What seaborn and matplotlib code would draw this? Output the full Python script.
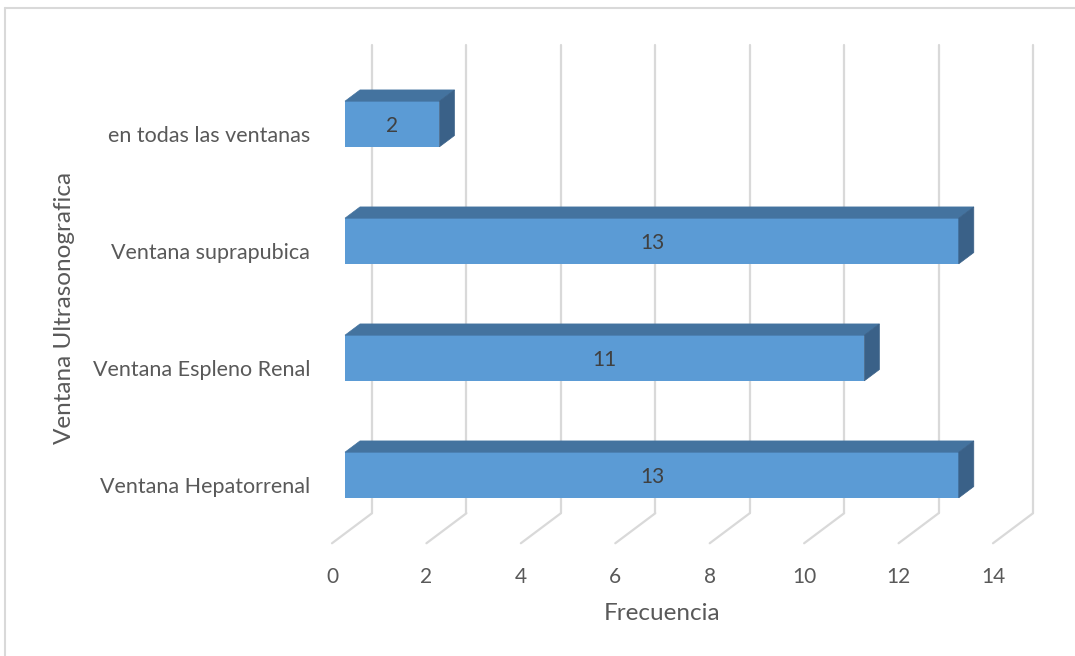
import matplotlib
matplotlib.use("Agg")
import matplotlib.pyplot as plt
from matplotlib.patches import Polygon
from matplotlib.lines import Line2D
from matplotlib.transforms import ScaledTranslation
import seaborn as sns
import pandas as pd

# Data
categorias = ["en todas las ventanas", "Ventana suprapubica",
              "Ventana Espleno Renal", "Ventana Hepatorrenal"]
frecuencias = [2, 13, 11, 13]
ticks_x = [0, 2, 4, 6, 8, 10, 12, 14]

df = pd.DataFrame({"categoria": categorias, "frecuencia": frecuencias})

sns.set_theme(style="white")
plt.rcParams["font.family"] = ["Lato", "DejaVu Sans"]

W, H = 1075, 656
fig = plt.figure(figsize=(W / 100, H / 100), dpi=100)
fig.patch.set_facecolor("white")

# Axes placed so the bars' front faces sit on the data plane
ax_left, ax_right = 345, 1006
ax_top, ax_bottom = 65.5, 533.5
ax = fig.add_axes([ax_left / W, 1 - ax_bottom / H,
                   (ax_right - ax_left) / W, (ax_bottom - ax_top) / H])

front_col = "#5B9BD5"
top_col = "#44739F"
side_col = "#3A6188"
grid_col = "#D9D9D9"
text_col = "#595959"

sns.barplot(data=df, y="categoria", x="frecuencia", orient="h",
            color=front_col, saturation=1, width=0.39, ax=ax, zorder=3,
            linewidth=0)
ax.set_xlim(0, 14)
ax.set_ylim(3.5, -0.5)
for s in ax.spines.values():
    s.set_visible(False)

# Pixel scales of the data plane
px_x = ax.bbox.width / 14.0
px_y = ax.bbox.height / 4.0

def off(dx_px, dy_px):
    # offset in screen pixels (dy positive = up)
    return ax.transData + ScaledTranslation(dx_px / 100, dy_px / 100, fig.dpi_scale_trans)

# Depth geometry (in pixels): floor front, back wall, bar depth
front_dx, front_dy = -13, -9.75
back_dx, back_dy = 27, 20.25
bar_dx, bar_dy = 15, 11.25

# Gridlines on the back wall plus floor diagonals
for t in ticks_x:
    ax.add_line(Line2D([t, t], [3.5, -0.5], transform=off(back_dx, back_dy),
                       color=grid_col, lw=1.6, zorder=1, clip_on=False))
    x0d, y0d = ax.transData.transform((t, 3.5))
    ax.add_line(Line2D([x0d + front_dx, x0d + back_dx],
                       [y0d + front_dy, y0d + back_dy],
                       transform=None, color=grid_col, lw=1.6, zorder=1,
                       clip_on=False))

# Top and side faces of each bar
ddx = bar_dx / px_x
ddy = bar_dy / px_y
for p in ax.patches:
    x0 = p.get_x()
    w = p.get_width()
    y0 = p.get_y()
    h = p.get_height()
    ytop = min(y0, y0 + h)
    ybot = max(y0, y0 + h)
    x1 = x0 + w
    top = Polygon([(x0, ytop), (x1, ytop), (x1 + ddx, ytop - ddy), (x0 + ddx, ytop - ddy)],
                  closed=True, facecolor=top_col, edgecolor=top_col, lw=0.5,
                  zorder=3, clip_on=False)
    side = Polygon([(x1, ytop), (x1 + ddx, ytop - ddy), (x1 + ddx, ybot - ddy), (x1, ybot)],
                   closed=True, facecolor=side_col, edgecolor=side_col, lw=0.5,
                   zorder=3, clip_on=False)
    ax.add_patch(top)
    ax.add_patch(side)

# Value labels
for i, v in enumerate(frecuencias):
    ax.text(v / 2, i + 0.015, str(v), ha="center", va="center", fontsize=15,
            color="#404040", zorder=5)

# Tick labels on the front edge of the floor
ax.set_xticks(ticks_x)
ax.set_xticklabels([str(t) for t in ticks_x])
ax.tick_params(axis="x", length=0, pad=24, labelsize=15, labelcolor=text_col)
for lab in ax.get_xticklabels():
    lab.set_transform(lab.get_transform() +
                      ScaledTranslation(front_dx / 100, 0, fig.dpi_scale_trans))

ax.set_yticks(range(len(categorias)))
ax.set_yticklabels(categorias)
ax.tick_params(axis="y", length=0, pad=25, labelsize=15.5, labelcolor=text_col)
for lab in ax.get_yticklabels():
    lab.set_transform(lab.get_transform() +
                      ScaledTranslation(0, -10 / 100, fig.dpi_scale_trans))

ax.set_xlabel("Frecuencia", fontsize=17.5, color=text_col)
ax.xaxis.set_label_coords(0.48, -0.148)
ax.set_ylabel("Ventana Ultrasonografica", fontsize=17.5, color=text_col)
ax.yaxis.set_label_coords(-0.408, 0.482)
ax.set_facecolor("none")

# Chart border (top and left visible)
fig.add_artist(Line2D([5 / W, 5 / W], [0, 1 - 8 / H], transform=fig.transFigure,
                      color=grid_col, lw=1.5))
fig.add_artist(Line2D([5 / W, 1], [1 - 8 / H, 1 - 8 / H], transform=fig.transFigure,
                      color=grid_col, lw=1.5))

fig.savefig("out.png", dpi=100, facecolor="white")
